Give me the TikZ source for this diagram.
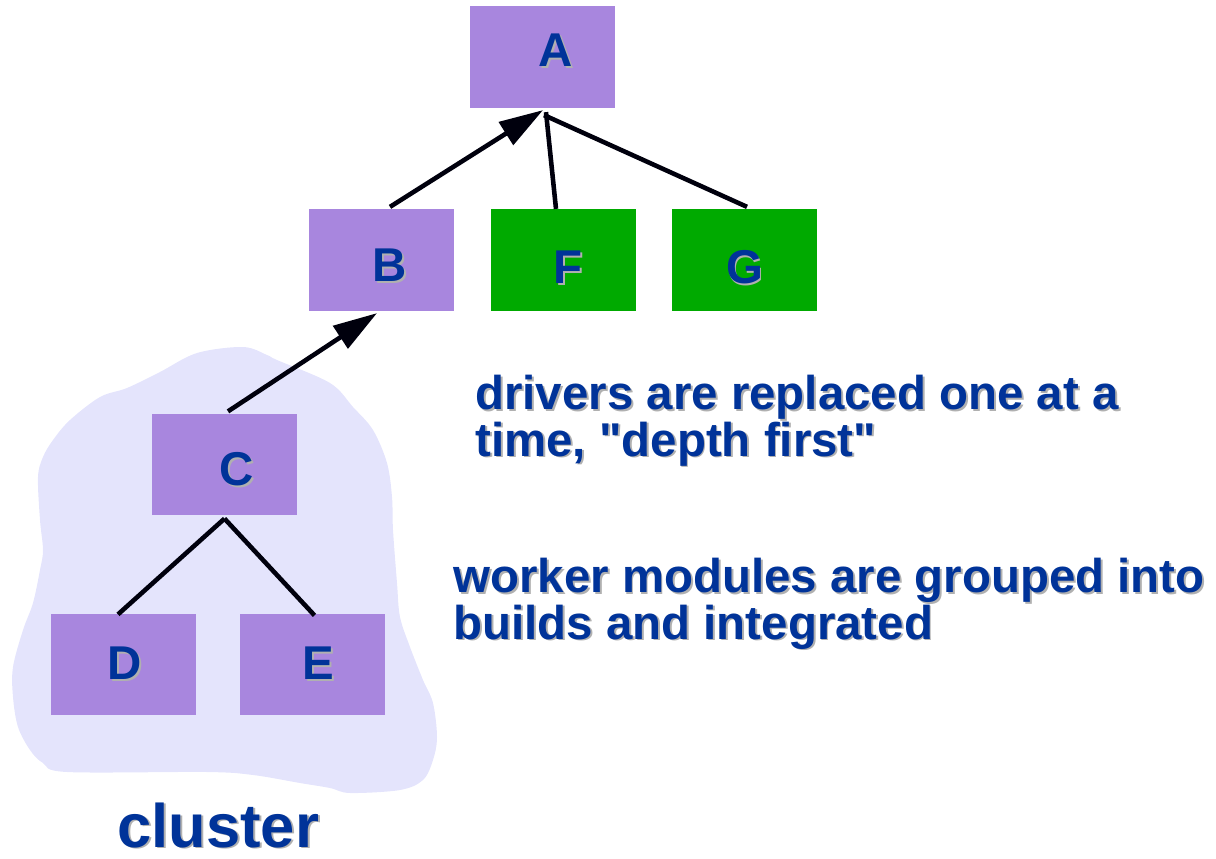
\documentclass[tikz,border=0pt]{standalone}
\usepackage{fontspec}
\setmainfont{Liberation Sans}
\usetikzlibrary{arrows.meta,calc}
\definecolor{purp}{RGB}{168,134,222}
\definecolor{grn}{RGB}{0,170,0}
\definecolor{blobc}{RGB}{228,228,252}
\definecolor{txtblue}{RGB}{0,51,153}
\definecolor{shgray}{RGB}{176,176,176}
\newcommand\shtxt[1]{\leavevmode\rlap{\kern1.1pt\raisebox{-1.1pt}{\color{shgray}#1}}#1}
\tikzset{
  box/.style={draw=none, fill=#1, minimum width=82.2pt, minimum height=57.8pt, inner sep=0pt},
  lettr/.style={inner sep=0pt, text=txtblue, font=\fontsize{27}{27}\selectfont\bfseries},
  conn/.style={line width=2.6pt, draw=black!95!blue},
  arr/.style={conn, -{Triangle[length=25pt,width=15pt]}},
  note/.style={inner sep=0pt, text=txtblue, align=left, font=\fontsize{27}{26.6}\selectfont\bfseries},
}
\begin{document}
\begin{tikzpicture}[x=0.02cm,y=-0.02cm]
\useasboundingbox (0,0) rectangle (1216,858);
% cluster blob
\fill[blobc] plot[smooth cycle, tension=0.55] coordinates {
 (197,353) (243,347) (267,355) (277,360) (330,383) (353,407) (373,430) (387,463)
 (392,497) (393,530) (397,583) (400,617) (410,647) (423,680) (433,703) (437,737)
 (433,760) (423,780) (400,790) (350,793) (330,788) (300,783) (253,775) (207,772)
 (67,772) (43,763) (30,750) (18,727) (13,697) (13,667) (23,630) (33,603)
 (40,570) (43,550) (40,520) (38,477) (43,457) (53,440) (70,420) (100,397)
 (127,388) (160,372)};
% boxes
\node[box=purp, label={[lettr, xshift=7.4pt, yshift=3.4pt]center:\shtxt{A}}] (A) at (542.5,57) {};
\node[box=purp, label={[lettr, xshift=4.5pt, yshift=-3.4pt]center:\shtxt{B}}] (B) at (381.5,260) {};
\node[box=grn, label={[lettr, xshift=2.6pt, yshift=-4.5pt]center:\shtxt{F}}] (F) at (563.5,260) {};
\node[box=grn, label={[lettr, xshift=0pt, yshift=-4.5pt]center:\shtxt{G}}] (G) at (744.5,260) {};
\node[box=purp, label={[lettr, xshift=6.8pt, yshift=-3.4pt]center:\shtxt{C}}] (C) at (224.5,464.5) {};
\node[box=purp, label={[lettr, xshift=0.9pt, yshift=0pt]center:\shtxt{D}}] (D) at (123.5,664.5) {};
\node[box=purp, label={[lettr, xshift=3.4pt, yshift=0pt]center:\shtxt{E}}] (E) at (312.5,664.5) {};
% connectors
\draw[arr] ($(B.north)+(8.5,-2)$) -- ($(A.south)+(0.5,2)$);
\draw[conn] ($(F.north)+(-7.5,0)$) -- ($(A.south)+(3.5,4)$);
\draw[conn] ($(G.north)+(2.5,-2)$) -- ($(A.south)+(1.5,7)$);
\draw[arr] ($(C.north)+(3.5,-2)$) -- ($(B.south)+(-4.5,2)$);
\draw[conn] ($(C.south)+(0,3)$) -- ($(D.north)+(-5.5,1)$);
\draw[conn] ($(C.south)+(0,3)$) -- ($(E.north)+(2,2)$);
% texts
\node[note, anchor=base west] (t1) at (475,456) {\shtxt{drivers are replaced one at a}\\\shtxt{time, \textquotedbl depth first\textquotedbl}};
\node[note, anchor=base west] (t2) at (453,639) {\shtxt{worker modules are grouped into}\\\shtxt{builds and integrated}};
\node[inner sep=0pt, text=txtblue, font=\fontsize{35}{35}\selectfont\bfseries, anchor=base west] (cl) at (117,847) {\shtxt{cluster}};
\end{tikzpicture}
\end{document}
